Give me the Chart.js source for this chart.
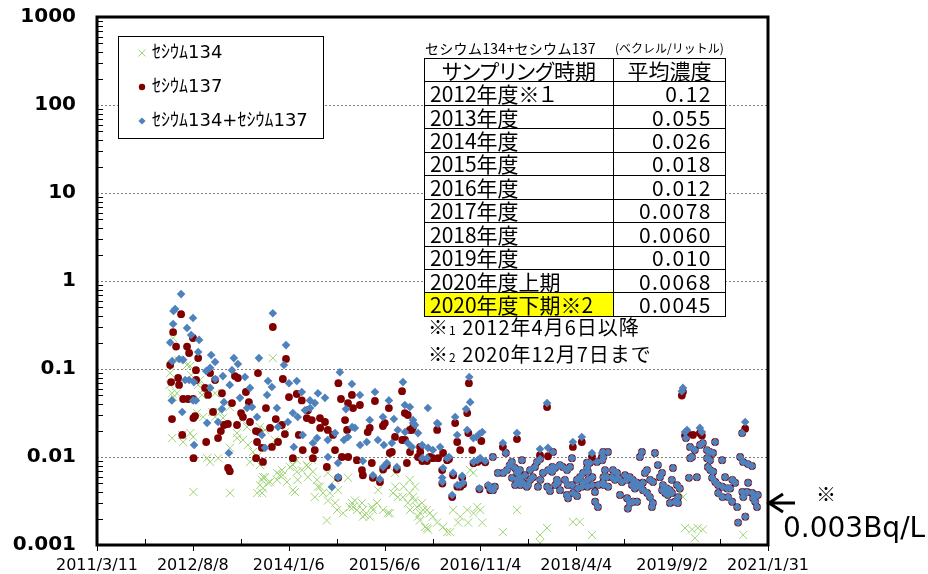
<!DOCTYPE html>
<html>
<head>
<meta charset="utf-8">
<script src="https://cdn.jsdelivr.net/npm/chart.js@4.4.0/dist/chart.umd.min.js"></script>
<style>
body { margin: 0; background: #fff; }
#wrap { position: relative; width: 928px; height: 574px; }
#cap { position: absolute; left: 425px; top: 38px; font-family: "Noto Sans CJK JP"; color: #000; white-space: nowrap; }
#cap .a { position: absolute; left: 0; top: 0; font-size: 14px; letter-spacing: 0.3px; }
#cap .b { position: absolute; left: 190px; top: 1px; font-size: 12px; }
#tbl { position: absolute; left: 424px; top: 58px; width: 301px; table-layout: fixed; border-collapse: collapse;
       background: #fff; font-family: "Noto Sans CJK JP"; font-size: 21px; font-feature-settings: "palt"; color: #000; }
#tbl tr { height: 23.45px; }
#tbl td { border: 1px solid #000; padding: 0 5px; line-height: 1; white-space: nowrap; }
#tbl td.v { text-align: right; padding-right: 13px; letter-spacing: 1.5px; }
#tbl tr.h td { text-align: center; }
#tbl td.hl { background: #ffff00; }
#notes { position: absolute; left: 428px; top: 315px; font-family: "Noto Sans CJK JP"; font-size: 20px; line-height: 24px; letter-spacing: 1px; white-space: nowrap; }
#notes small { font-size: 12px; }
</style>
</head>
<body>
<div id="wrap">
  <canvas id="myChart" width="928" height="574"></canvas>
  <div id="cap"><span class="a">セシウム134+セシウム137</span><span class="b">(ベクレル/リットル)</span></div>
  <table id="tbl"><colgroup><col style="width:189px"><col style="width:112px"></colgroup><tbody></tbody></table>
  <div id="notes">※<small>1</small> 2012年4月6日以降<br>※<small>2</small> 2020年12月7日まで</div>
</div>
<script>
// 平均濃度の表
var tableHead = ['サンプリング時期', '平均濃度'];
var periods = ['2012年度※１', '2013年度', '2014年度', '2015年度', '2016年度', '2017年度', '2018年度', '2019年度', '2020年度上期', '2020年度下期※2'];
var averages = ['0.12', '0.055', '0.026', '0.018', '0.012', '0.0078', '0.0060', '0.010', '0.0068', '0.0045'];

var seriesNames = ['ｾｼｳﾑ134', 'ｾｼｳﾑ137', 'ｾｼｳﾑ134+ｾｼｳﾑ137'];
var yTickValues = [0.001, 0.01, 0.1, 1, 10, 100, 1000];
var xStart = '2011-03-11';
var xEnd = '2021-01-31';
var noteLevel = 0.003;

// セシウム134 (Bq/L)
var cs134Data = [
['2012-04-06',0.066],['2012-04-08',0.09],['2012-04-18',0.053],['2012-04-24',0.225],['2012-04-25',0.048],['2012-04-19',0.0164],
['2012-05-15',0.053],['2012-05-21',0.127],['2012-06-11',0.0178],['2012-06-17',0.0148],['2012-07-08',0.111],['2012-07-24',0.108],
['2012-07-30',0.085],['2012-07-25',0.0187],['2012-08-10',0.0169],['2012-08-11',0.004],['2012-08-31',0.0316],['2012-09-06',0.066],
['2012-09-16',0.075],['2012-09-27',0.0507],['2012-10-02',0.058],['2012-10-03',0.0285],['2012-10-13',0.061],['2012-10-24',0.0097],
['2012-11-09',0.0088],['2012-11-20',0.0325],['2012-12-06',0.053],['2012-12-07',0.0285],['2012-12-23',0.0097],
['2013-01-01',0.0325],['2013-01-17',0.0277],['2013-02-23',0.037],['2013-02-24',0.0127],['2013-02-25',0.0039],['2013-04-03',0.0187],
['2013-04-04',0.0164],['2013-04-30',0.0263],['2013-05-05',0.0156],['2013-05-27',0.0219],['2013-06-01',0.0137],['2013-06-12',0.0088],
['2013-06-28',0.0114],['2013-07-20',0.01],['2013-07-21',0.0039],['2013-08-04',0.0219],['2013-08-05',0.0081],['2013-08-06',0.0048],
['2013-08-15',0.0055],['2013-08-21',0.0044],['2013-09-01',0.0203],['2013-09-02',0.0059],['2013-09-28',0.0052],['2013-10-13',0.133],
['2013-10-24',0.0156],['2013-11-04',0.0066],['2013-11-20',0.0062],['2013-12-01',0.0071],['2013-12-17',0.0192],['2013-12-28',0.0052],
['2013-08-16',0.0039],['2013-08-22',0.0059],['2013-09-17',0.0051],['2013-11-05',0.0055],['2013-12-06',0.0062],
['2014-01-13',0.0077],['2014-01-29',0.0042],['2014-02-09',0.004],['2014-02-19',0.0092],['2014-02-20',0.0068],['2014-03-18',0.0071],
['2014-04-14',0.0081],['2014-04-20',0.0059],['2014-05-11',0.0092],['2014-05-27',0.0035],['2014-06-08',0.0055],['2014-06-13',0.0046],
['2014-06-24',0.0046],['2014-07-31',0.0019],['2014-08-05',0.0066],['2014-08-16',0.0039],['2014-09-13',0.0055],['2014-09-14',0.003],
['2014-09-29',0.0042],['2014-11-22',0.0058],['2014-12-13',0.003],['2014-12-19',0.0027],
['2014-01-30',0.0081],['2014-02-24',0.0055],['2014-04-21',0.0077],['2014-05-17',0.0068],['2014-07-10',0.0039],['2014-08-06',0.0032],
['2014-09-24',0.0025],['2014-10-26',0.0023],['2014-12-03',0.0027],['2014-12-29',0.0032],
['2015-01-09',0.0025],['2015-02-05',0.003],['2015-02-10',0.0021],['2015-02-21',0.0022],['2015-03-30',0.0027],['2015-04-05',0.0025],
['2015-04-27',0.003],['2015-05-02',0.0059],['2015-05-03',0.0042],['2015-06-25',0.0023],['2015-07-22',0.0039],['2015-08-02',0.0066],
['2015-08-03',0.0046],['2015-09-13',0.0035],['2015-09-18',0.0046],['2015-10-10',0.003],['2015-10-21',0.0055],['2015-10-22',0.0025],
['2015-11-07',0.0035],['2015-11-18',0.0046],['2015-11-28',0.0027],['2015-12-04',0.0021],['2015-12-15',0.0023],['2015-12-26',0.003],
['2015-02-11',0.0025],['2015-03-19',0.0021],['2015-05-29',0.0025],['2015-07-05',0.0023],['2015-08-17',0.0035],['2015-10-20',0.0039],
['2015-11-17',0.0032],['2015-12-14',0.0019],
['2016-01-01',0.0025],['2016-01-10',0.0016],['2016-01-21',0.0025],['2016-01-26',0.0015],['2016-02-06',0.0023],['2016-02-22',0.0021],
['2016-03-16',0.0018],['2016-04-17',0.0016],['2016-05-09',0.0014],['2016-05-25',0.0014],['2016-06-10',0.0025],['2016-07-07',0.0018],
['2016-07-18',0.0021],['2016-08-25',0.0025],['2016-08-30',0.0018],['2016-09-10',0.0071],['2016-09-27',0.0066],['2016-09-28',0.0023],
['2016-10-18',0.0027],['2016-11-03',0.0025],['2016-11-14',0.0018],['2016-01-22',0.00156],
['2017-03-05',0.0014],['2017-05-20',0.0025],['2017-09-21',0.0013],['2017-09-22',0.00105],['2017-10-29',0.00156],
['2018-03-17',0.00183],['2018-04-23',0.00183],['2018-06-28',0.0013],
['2019-10-14',0.0039],['2019-10-31',0.0035],['2019-11-11',0.00156],['2019-12-19',0.0015],
['2020-01-03',0.0012],['2020-01-19',0.00156],['2020-02-15',0.0015],['2020-09-19',0.0013]
];

// セシウム137 (Bq/L) 2012-2016
var cs137Early = [
['2012-04-08',0.111],['2012-04-13',0.071],['2012-04-18',0.027],['2012-04-24',0.263],['2012-05-10',0.18],['2012-05-21',0.079],
['2012-05-26',0.066],['2012-06-06',0.42],['2012-06-12',0.0178],['2012-06-17',0.0456],['2012-07-08',0.18],['2012-07-13',0.0456],
['2012-07-19',0.152],['2012-08-09',0.225],['2012-08-10',0.0456],['2012-08-11',0.0277],['2012-08-12',0.0097],['2012-08-20',0.0292],
['2012-08-25',0.097],['2012-08-26',0.075],['2012-09-06',0.133],['2012-10-13',0.061],['2012-10-19',0.0148],['2012-10-29',0.0507],
['2012-11-09',0.09],['2012-11-25',0.0325],['2012-12-06',0.075],['2012-12-22',0.0164],
['2013-01-06',0.0197],['2013-01-12',0.053],['2013-01-23',0.0231],['2013-02-13',0.0237],['2013-02-14',0.0075],['2013-02-23',0.0069],
['2013-03-07',0.041],['2013-03-23',0.083],['2013-04-03',0.0231],['2013-04-08',0.079],['2013-04-25',0.0316],['2013-05-05',0.0285],
['2013-05-21',0.0548],['2013-06-06',0.042],['2013-06-12',0.025],['2013-07-14',0.0197],['2013-07-15',0.0097],['2013-07-20',0.0148],
['2013-07-25',0.09],['2013-07-30',0.0192],['2013-08-15',0.0127],['2013-08-21',0.0088],['2013-09-06',0.036],['2013-09-28',0.0214],
['2013-10-08',0.013],['2013-10-13',0.30],['2013-10-29',0.027],['2013-11-10',0.0148],['2013-12-01',0.0231],['2013-12-06',0.077],
['2013-12-17',0.0182],['2013-12-23',0.13],
['2014-01-08',0.048],['2014-01-29',0.0097],['2014-02-19',0.052],['2014-03-02',0.0178],['2014-03-18',0.044],['2014-03-23',0.012],
['2014-04-14',0.0277],['2014-04-20',0.034],['2014-05-11',0.0263],['2014-05-17',0.0097],['2014-05-27',0.012],['2014-06-24',0.0277],
['2014-06-25',0.0214],['2014-07-21',0.025],['2014-07-31',0.0077],['2014-08-05',0.0203],['2014-09-02',0.0178],['2014-09-13',0.012],
['2014-10-01',0.069],['2014-09-30',0.0058],['2014-10-15',0.0456],['2014-10-20',0.01],['2014-11-06',0.0263],['2014-11-17',0.0203],
['2014-11-22',0.041],['2014-11-23',0.01],['2014-12-13',0.0507],['2014-12-19',0.036],
['2015-01-09',0.0092],['2015-01-25',0.039],['2015-02-05',0.0071],['2015-02-10',0.0062],['2015-03-08',0.0192],['2015-03-19',0.0214],
['2015-03-30',0.00855],['2015-04-05',0.0058],['2015-04-16',0.0433],['2015-05-13',0.0052],['2015-05-29',0.0225],['2015-05-30',0.0072],
['2015-06-08',0.0243],['2015-06-19',0.008],['2015-06-30',0.036],['2015-07-05',0.0111],['2015-07-16',0.0114],['2015-08-02',0.0169],
['2015-08-12',0.0072],['2015-09-09',0.056],['2015-09-10',0.0156],['2015-09-24',0.0316],['2015-09-25',0.0156],['2015-10-05',0.00855],
['2015-10-10',0.03],['2015-10-21',0.0203],['2015-10-22',0.0114],['2015-11-01',0.0203],['2015-11-07',0.0219],['2015-12-04',0.01],
['2015-12-15',0.013],['2015-12-16',0.0114],['2015-12-27',0.009],
['2016-01-21',0.009],['2016-02-06',0.01],['2016-02-22',0.0097],['2016-03-16',0.0203],['2016-03-21',0.0097],['2016-04-12',0.0071],
['2016-04-13',0.005],['2016-04-17',0.0111],['2016-05-09',0.0092],['2016-05-19',0.0095],['2016-06-05',0.0035],['2016-06-10',0.0062],
['2016-06-21',0.0243],['2016-07-02',0.0148],['2016-07-03',0.0046],['2016-07-18',0.012],['2016-07-19',0.0046],['2016-07-29',0.0058],
['2016-08-03',0.0049],['2016-08-25',0.0316],['2016-09-03',0.069],['2016-08-31',0.0187],['2016-09-21',0.012],['2016-09-28',0.0085],
['2016-10-30',0.0043],['2016-11-09',0.0152],['2016-11-30',0.0087],['2016-12-16',0.0047],['2016-12-27',0.0042],
['2016-10-19',0.0088],['2016-11-03',0.0092]
];

// セシウム134+セシウム137 (Bq/L) 2012-2016
var sumEarly = [
['2012-04-08',0.20],['2012-04-19',0.123],['2012-04-24',0.325],['2012-04-26',0.456],['2012-05-05',0.48],['2012-04-17',0.044],
['2012-06-06',0.71],['2012-05-26',0.13],['2012-06-17',0.127],['2012-06-12',0.0325],['2012-06-28',0.075],['2012-07-08',0.292],
['2012-07-19',0.075],['2012-07-30',0.243],['2012-08-09',0.38],['2012-08-10',0.044],['2012-08-14',0.071],['2012-08-15',0.0137],
['2012-08-25',0.044],['2012-09-06',0.156],['2012-09-11',0.214],['2012-10-19',0.095],['2012-10-24',0.0243],['2012-11-09',0.103],
['2012-11-10',0.061],['2012-11-15',0.144],['2012-12-06',0.12],['2012-12-07',0.077],['2012-12-22',0.025],
['2013-01-12',0.035],['2013-01-17',0.083],['2013-01-23',0.042],['2013-02-18',0.0111],['2013-02-23',0.066],['2013-03-07',0.097],
['2013-03-17',0.133],['2013-04-08',0.114],['2013-04-19',0.047],['2013-05-16',0.081],['2013-05-27',0.036],['2013-06-12',0.061],
['2013-06-23',0.037],['2013-07-20',0.0285],['2013-07-30',0.133],['2013-08-15',0.0178],['2013-09-01',0.0127],['2013-09-12',0.0507],
['2013-09-17',0.073],['2013-10-08',0.0624],['2013-10-13',0.43],['2013-11-04',0.036],['2013-11-10',0.0219],['2013-12-12',0.111],
['2013-12-23',0.187],
['2014-01-02',0.025],['2014-01-08',0.069],['2014-01-29',0.0316],['2014-02-03',0.013],['2014-02-19',0.073],['2014-02-24',0.0285],
['2014-03-18',0.0548],['2014-03-23',0.0178],['2014-04-04',0.034],['2014-05-01',0.044],['2014-05-02',0.036],['2014-05-17',0.0144],
['2014-05-27',0.041],['2014-06-08',0.0164],['2014-06-13',0.053],['2014-07-21',0.047],['2014-08-05',0.0156],['2014-08-06',0.01],
['2014-08-27',0.00456],['2014-09-13',0.0187],['2014-09-29',0.00855],['2014-09-30',0.0059],['2014-10-09',0.092],['2014-10-31',0.0156],
['2014-11-11',0.035],['2014-11-22',0.0169],['2014-12-13',0.0676],['2014-12-14',0.0219],['2014-12-29',0.0214],
['2015-01-25',0.0507],['2015-01-26',0.0137],['2015-02-10',0.009],['2015-03-03',0.0148],['2015-03-19',0.0263],['2015-04-05',0.0062],
['2015-04-16',0.0548],['2015-05-02',0.0156],['2015-05-13',0.0056],['2015-05-29',0.0285],['2015-05-30',0.0077],['2015-06-03',0.0137],
['2015-06-19',0.00855],['2015-06-30',0.044],['2015-07-16',0.0144],['2015-07-27',0.027],['2015-08-12',0.0077],['2015-08-17',0.0203],
['2015-09-14',0.071],['2015-09-24',0.039],['2015-09-25',0.0192],['2015-10-10',0.0144],['2015-10-21',0.037],['2015-11-01',0.013],
['2015-11-07',0.0263],['2015-11-08',0.0243],['2015-11-18',0.0231],['2015-12-04',0.0187],['2015-12-26',0.0137],['2015-12-27',0.0097],
['2016-01-21',0.0097],['2016-01-26',0.036],['2016-01-27',0.0127],['2016-02-22',0.012],['2016-03-16',0.0243],['2016-03-21',0.0237],
['2016-04-01',0.013],['2016-04-12',0.0058],['2016-04-13',0.0052],['2016-04-17',0.0075],['2016-05-09',0.0097],['2016-05-19',0.01],
['2016-06-05',0.0037],['2016-06-10',0.0066],['2016-06-21',0.0285],['2016-07-02',0.0178],['2016-07-03',0.0048],['2016-07-18',0.0048],
['2016-07-29',0.0061],['2016-08-03',0.0051],['2016-08-19',0.035],['2016-08-25',0.0203],['2016-09-05',0.081],['2016-09-10',0.042],
['2016-09-27',0.0164],['2016-09-28',0.0088],['2016-10-13',0.0169],['2016-10-29',0.0182],['2016-10-30',0.0044],['2016-11-14',0.0192],
['2016-11-30',0.009],['2016-12-16',0.0048],['2016-12-27',0.0043],['2016-10-19',0.0092],['2016-11-03',0.0097]
];

// 2017年以降: ｾｼｳﾑ134不検出でｾｼｳﾑ137と合計が同じ点
var sameLate = [
['2017-01-10',0.01],['2017-01-11',0.0042],['2017-01-21',0.0046],['2017-02-06',0.0066],['2017-03-06',0.0066],['2017-03-21',0.0111],
['2017-03-27',0.0071],['2017-04-11',0.0081],['2017-04-22',0.0088],['2017-05-09',0.0075],['2017-05-10',0.0048],['2017-05-21',0.0066],
['2017-06-05',0.0071],['2017-06-06',0.0058],['2017-06-07',0.0048],['2017-06-16',0.0092],['2017-07-02',0.0062],['2017-07-18',0.0048],
['2017-07-29',0.0071],['2017-08-25',0.0077],['2017-09-05',0.0088],['2017-09-10',0.0046],['2017-09-22',0.0095],['2017-10-07',0.0066],
['2017-10-30',0.0046],['2017-11-14',0.0041],['2017-11-25',0.0068],['2017-11-30',0.0114],['2017-12-11',0.0075],['2017-12-21',0.0055],
['2017-12-27',0.0051],['2017-04-23',0.0058],['2017-05-22',0.0055],['2017-06-21',0.0051],['2017-07-12',0.0046],['2017-07-30',0.0055],
['2017-08-14',0.0059],['2017-09-23',0.0055],['2017-11-04',0.0071],['2017-11-26',0.0077],['2017-12-12',0.0048],
['2018-01-06',0.0081],['2018-01-22',0.0077],['2018-02-02',0.0055],['2018-02-13',0.0037],['2018-02-18',0.0048],['2018-02-19',0.0034],
['2018-03-12',0.0097],['2018-03-13',0.0048],['2018-03-18',0.0039],['2018-04-08',0.0055],['2018-04-09',0.0036],['2018-04-13',0.0044],
['2018-05-05',0.0046],['2018-05-10',0.0051],['2018-06-01',0.0086],['2018-06-02',0.0075],['2018-06-03',0.0046],['2018-06-06',0.0068],
['2018-06-17',0.0086],['2018-06-29',0.0048],['2018-07-14',0.004],['2018-07-15',0.0031],['2018-07-25',0.0088],['2018-07-30',0.0027],
['2018-08-22',0.0092],['2018-08-27',0.0114],['2018-08-28',0.01],['2018-08-29',0.0059],['2018-08-30',0.0048],['2018-09-06',0.0071],
['2018-09-17',0.0059],['2018-09-22',0.0114],['2018-09-23',0.0046],['2018-10-14',0.0059],['2018-10-30',0.0055],['2018-11-15',0.0058],
['2018-11-26',0.0037],['2018-12-06',0.0052],['2018-12-23',0.0062],['2018-01-07',0.0042],['2018-02-14',0.0071],['2018-03-02',0.0077],
['2018-04-24',0.0059],['2018-05-11',0.0066],['2018-06-07',0.0055],['2018-06-30',0.0059],['2018-07-31',0.0048],['2018-08-26',0.0051],
['2018-10-19',0.0071],['2018-11-10',0.0066],
['2019-01-02',0.0055],['2019-01-03',0.0034],['2019-01-07',0.0026],['2019-01-18',0.0059],['2019-01-19',0.003],['2019-02-03',0.0055],
['2019-02-04',0.0031],['2019-02-25',0.0051],['2019-02-26',0.0031],['2019-03-13',0.01],['2019-03-14',0.0046],['2019-03-24',0.0114],
['2019-03-29',0.0051],['2019-03-30',0.0042],['2019-04-09',0.0066],['2019-04-20',0.0071],['2019-04-21',0.0039],['2019-05-06',0.0035],
['2019-05-17',0.0027],['2019-05-22',0.003],['2019-06-02',0.0111],['2019-06-18',0.0081],['2019-06-29',0.0059],['2019-07-10',0.0066],
['2019-07-15',0.0048],['2019-08-05',0.0044],['2019-08-11',0.0037],['2019-08-21',0.0042],['2019-08-22',0.003],['2019-09-01',0.0055],
['2019-09-02',0.0039],['2019-09-07',0.0075],['2019-09-18',0.0031],['2019-10-04',0.003],['2019-11-16',0.0164],['2019-12-02',0.0058],
['2019-12-08',0.013],['2019-12-09',0.0097],['2019-12-19',0.01],['2019-01-29',0.0048],['2019-02-14',0.0044],['2019-05-07',0.0055],
['2019-05-23',0.0052],['2019-07-11',0.0042],['2019-07-27',0.0039],['2019-09-29',0.0048],['2019-10-14',0.0044],['2019-10-05',0.0035],
['2020-01-03',0.012],['2020-01-14',0.0059],['2020-01-31',0.0137],['2020-02-15',0.0144],['2020-03-08',0.012],['2020-03-09',0.0097],
['2020-03-13',0.0077],['2020-03-24',0.0114],['2020-03-25',0.0092],['2020-04-05',0.0058],['2020-04-10',0.0111],['2020-04-21',0.0148],
['2020-04-22',0.0052],['2020-05-07',0.0048],['2020-05-08',0.0039],['2020-05-29',0.0092],['2020-05-30',0.0046],['2020-05-31',0.0035],
['2020-06-14',0.0059],['2020-06-25',0.0044],['2020-06-30',0.0035],['2020-07-11',0.0044],['2020-07-22',0.0031],['2020-08-18',0.0027],
['2020-08-23',0.0018],['2020-09-03',0.01],['2020-09-14',0.0187],['2020-09-19',0.0088],['2020-10-01',0.0021],['2020-10-10',0.004],
['2020-10-15',0.0083],['2020-10-16',0.0051],['2020-11-06',0.0079],['2020-11-07',0.0039],['2020-11-12',0.0034],['2020-11-23',0.0031],
['2020-12-03',0.0027],['2020-12-07',0.0037],['2020-03-26',0.0071],['2020-04-11',0.0068],['2020-07-23',0.0055],['2020-08-07',0.0051],
['2020-09-15',0.004],['2020-09-20',0.0035]
];

// 2017年以降で合計とｾｼｳﾑ137がずれて見える点
var sumLate = [
['2017-03-05',0.0144],['2017-05-20',0.0187],['2017-09-21',0.0123],['2017-10-29',0.041],['2017-11-03',0.0127],['2018-03-17',0.0148],
['2018-05-04',0.0169],['2018-06-28',0.0111],['2018-08-21',0.0111],['2019-10-25',0.056],['2019-10-31',0.061],['2019-11-11',0.0192],
['2019-11-22',0.0203],['2020-01-30',0.0214],['2020-02-10',0.0192],['2020-09-30',0.025]
];
var cs137Late = [
['2017-03-05',0.013],['2017-05-20',0.016],['2017-09-21',0.0105],['2017-10-29',0.037],['2017-11-03',0.0102],['2018-03-17',0.013],
['2018-05-04',0.0148],['2018-06-28',0.0101],['2018-08-21',0.0101],['2019-10-25',0.05],['2019-10-31',0.055],['2019-11-11',0.0175],
['2019-11-22',0.0187],['2019-12-24',0.0178],['2020-01-30',0.0187],['2020-02-10',0.0175],['2020-09-30',0.021]
];

var green = 'rgb(160,212,120)';
var red = 'rgb(128,0,0)';
var blue = 'rgb(79,129,189)';

function toPoints(list) {
    return list.map(function (p) { return { x: Date.parse(p[0]), y: p[1] }; });
}

// 表
var tbody = document.querySelector('#tbl tbody');
var head = document.createElement('tr');
head.className = 'h';
head.innerHTML = '<td>' + tableHead[0] + '</td><td>' + tableHead[1] + '</td>';
tbody.appendChild(head);
for (let i = 0; i < periods.length; i++) {
    let tr = document.createElement('tr');
    let hl = i == periods.length - 1 ? ' class="hl"' : '';
    tr.innerHTML = '<td' + hl + '>' + periods[i] + '</td><td class="v">' + averages[i] + '</td>';
    tbody.appendChild(tr);
}

function fmtDate(ms) {
    var d = new Date(ms);
    return d.getUTCFullYear() + '/' + (d.getUTCMonth() + 1) + '/' + d.getUTCDate();
}

function drawMarker(ctx, kind, x, y) {
    ctx.beginPath();
    if (kind == 0) {
        ctx.strokeStyle = green;
        ctx.lineWidth = 1;
        ctx.moveTo(x - 3.5, y - 3.5); ctx.lineTo(x + 3.5, y + 3.5);
        ctx.moveTo(x + 3.5, y - 3.5); ctx.lineTo(x - 3.5, y + 3.5);
        ctx.stroke();
    } else if (kind == 1) {
        ctx.fillStyle = red;
        ctx.arc(x, y, 3.2, 0, Math.PI * 2);
        ctx.fill();
    } else {
        ctx.fillStyle = blue;
        ctx.moveTo(x - 3.6, y); ctx.lineTo(x, y - 3.6); ctx.lineTo(x + 3.6, y); ctx.lineTo(x, y + 3.6);
        ctx.closePath();
        ctx.fill();
    }
}

var decorations = {
    id: 'decorations',
    beforeDatasetsDraw(chart) {
        var ctx = chart.ctx, a = chart.chartArea, ys = chart.scales.y;
        ctx.save();
        ctx.strokeStyle = '#7f7f7f';
        ctx.lineWidth = 1;
        ctx.setLineDash([2, 2]);
        for (let i = 1; i < yTickValues.length - 1; i++) {
            let py = Math.round(ys.getPixelForValue(yTickValues[i])) + 0.5;
            ctx.beginPath();
            ctx.moveTo(a.left, py);
            ctx.lineTo(a.right, py);
            ctx.stroke();
        }
        ctx.restore();
    },
    afterDatasetsDraw(chart) {
        var ctx = chart.ctx, a = chart.chartArea, ys = chart.scales.y, xs = chart.scales.x;
        ctx.save();
        ctx.strokeStyle = '#000';
        ctx.lineWidth = 1;
        // y minor ticks (inside)
        for (let i = 0; i < yTickValues.length - 1; i++) {
            for (let k = 2; k <= 9; k++) {
                let py = Math.round(ys.getPixelForValue(yTickValues[i] * k)) + 0.5;
                ctx.beginPath();
                ctx.moveTo(a.left, py);
                ctx.lineTo(a.left + 6, py);
                ctx.stroke();
            }
        }
        // x ticks: major outside, minor inside
        var t = xs.ticks;
        for (let i = 0; i < t.length; i++) {
            let px = Math.round(xs.getPixelForValue(t[i].value)) + 0.5;
            ctx.beginPath();
            ctx.moveTo(px, a.bottom);
            ctx.lineTo(px, a.bottom + 6);
            ctx.stroke();
            if (i < t.length - 1) {
                let mx = Math.round(xs.getPixelForValue((t[i].value + t[i + 1].value) / 2)) + 0.5;
                ctx.beginPath();
                ctx.moveTo(mx, a.bottom);
                ctx.lineTo(mx, a.bottom - 6);
                ctx.stroke();
            }
        }
        // frame
        ctx.lineWidth = 3;
        ctx.strokeRect(a.left, a.top, a.right - a.left, a.bottom - a.top);
        ctx.restore();
    },
    afterDraw(chart) {
        var ctx = chart.ctx, a = chart.chartArea, ys = chart.scales.y;
        ctx.save();
        // legend
        ctx.fillStyle = '#fff';
        ctx.fillRect(118, 36, 205, 102);
        ctx.strokeStyle = '#000';
        ctx.lineWidth = 1;
        ctx.strokeRect(118.5, 36.5, 205, 102);
        ctx.font = '18px "DejaVu Sans", "Noto Sans CJK JP"';
        ctx.textBaseline = 'middle';
        ctx.textAlign = 'left';
        for (let i = 0; i < seriesNames.length; i++) {
            let ly = 53 + i * 34;
            drawMarker(ctx, i, 142, ly);
            ctx.fillStyle = '#000';
            ctx.fillText(seriesNames[i], 152, ly);
        }
        // 0.003Bq/L arrow
        var ay = Math.round(ys.getPixelForValue(noteLevel));
        ctx.strokeStyle = '#000';
        ctx.lineWidth = 3;
        ctx.beginPath();
        ctx.moveTo(a.right + 27, ay);
        ctx.lineTo(a.right + 1, ay);
        ctx.moveTo(a.right + 15, ay - 9);
        ctx.lineTo(a.right + 1, ay);
        ctx.lineTo(a.right + 15, ay + 9);
        ctx.stroke();
        ctx.fillStyle = '#000';
        ctx.font = '20px "Noto Sans CJK JP"';
        ctx.textAlign = 'center';
        ctx.fillText('※', a.right + 58, ay - 9);
        ctx.font = '28px "DejaVu Sans"';
        ctx.textAlign = 'left';
        ctx.fillText(noteLevel + 'Bq/L', a.right + 15, ay + 27);
        ctx.restore();
    }
};

var ctx = document.getElementById('myChart').getContext('2d');
var myChart = new Chart(ctx, {
    type: 'scatter',
    data: {
        datasets: [{
            label: seriesNames[0],
            data: toPoints(cs134Data),
            pointStyle: 'crossRot',
            pointRadius: 5.8,
            pointBorderColor: green,
            pointBackgroundColor: green,
            pointBorderWidth: 1,
            order: 3
        }, {
            label: seriesNames[1],
            data: toPoints(cs137Early.concat(sameLate, cs137Late)),
            pointStyle: 'circle',
            pointRadius: 3.9,
            pointBackgroundColor: red,
            pointBorderColor: red,
            pointBorderWidth: 0,
            order: 2
        }, {
            label: seriesNames[2],
            data: toPoints(sumEarly.concat(sameLate, sumLate)),
            pointStyle: 'rectRot',
            pointRadius: 4.3,
            pointBackgroundColor: blue,
            pointBorderColor: blue,
            pointBorderWidth: 0,
            order: 1
        }]
    },
    options: {
        responsive: false,
        animation: false,
        devicePixelRatio: 1,
        layout: { padding: { left: 0, top: 17, right: 160, bottom: 0 } },
        plugins: { legend: { display: false }, tooltip: { enabled: false } },
        scales: {
            x: {
                type: 'linear',
                min: Date.parse(xStart),
                max: Date.parse(xEnd),
                afterBuildTicks: function (scale) {
                    var step = (scale.max - scale.min) / 7;
                    var arr = [];
                    for (let i = 0; i <= 7; i++) arr.push({ value: scale.min + step * i });
                    scale.ticks = arr;
                },
                afterFit: function (scale) {
                    scale.height = 29;
                    scale.paddingLeft = 0;
                    scale.paddingRight = 0;
                },
                grid: { display: false, drawTicks: false, tickLength: 0 },
                border: { display: false },
                ticks: {
                    autoSkip: false,
                    maxRotation: 0,
                    padding: 11,
                    color: '#000',
                    font: { family: 'DejaVu Sans', size: 16 },
                    callback: function (v) { return fmtDate(v); }
                }
            },
            y: {
                type: 'logarithmic',
                min: 0.001,
                max: 1000,
                afterBuildTicks: function (scale) {
                    scale.ticks = yTickValues.map(function (v) { return { value: v }; });
                },
                afterFit: function (scale) {
                    scale.width = 97;
                    scale.paddingTop = 0;
                    scale.paddingBottom = 0;
                },
                grid: { display: false, drawTicks: false, tickLength: 0 },
                border: { display: false },
                ticks: {
                    padding: 21,
                    color: '#000',
                    font: { family: 'DejaVu Sans', size: 20, weight: 'bold' },
                    callback: function (v) { return String(v); }
                }
            }
        }
    },
    plugins: [decorations]
});
</script>
</body>
</html>
